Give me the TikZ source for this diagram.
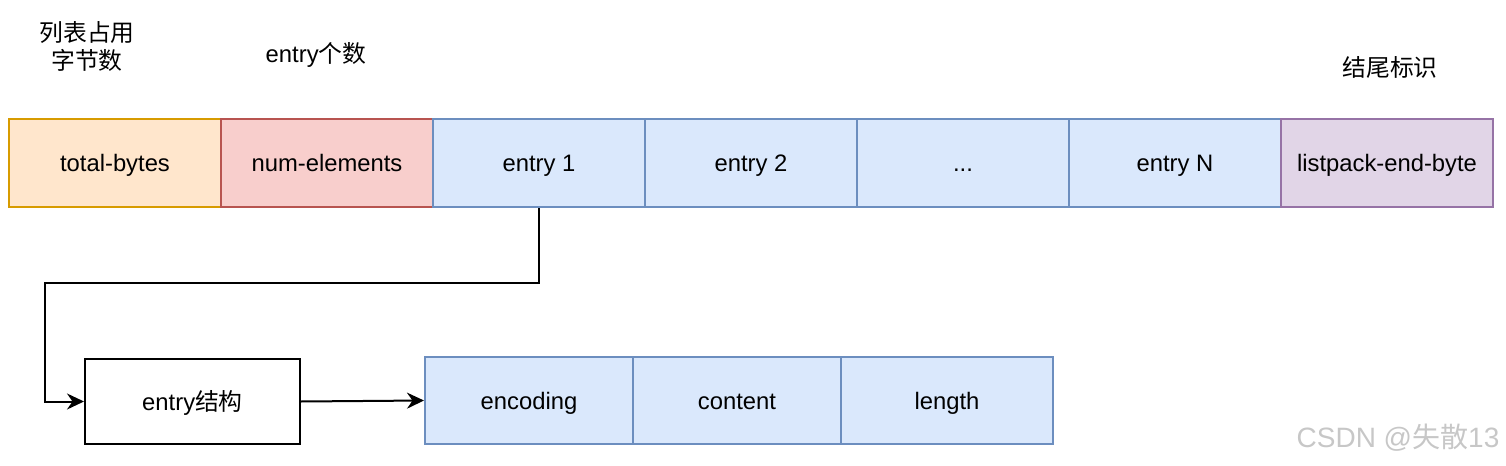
\documentclass[tikz,border=0pt]{standalone}
\usepackage{fontspec}
\setmainfont{Liberation Sans}
\newfontfamily\cjk{Noto Sans CJK SC}
\usepackage{tikz}
\usetikzlibrary{arrows.meta, positioning}

\definecolor{orangefill}{HTML}{FFE6CC}
\definecolor{orangeline}{HTML}{D79B00}
\definecolor{redfill}{HTML}{F8CECC}
\definecolor{redline}{HTML}{B85450}
\definecolor{bluefill}{HTML}{DAE8FC}
\definecolor{blueline}{HTML}{6C8EBF}
\definecolor{purplefill}{HTML}{E1D5E7}
\definecolor{purpleline}{HTML}{9673A6}

\tikzset{
  field/.style={draw, line width=1pt, minimum width=106pt, minimum height=44pt,
    inner sep=0pt, text height=10pt, text depth=1.5pt,
    font=\fontsize{11.9}{14}\selectfont},
  bluefield/.style={field, fill=bluefill, draw=blueline},
  note/.style={align=center, font=\fontsize{11.9}{14}\selectfont},
}

\begin{document}
\begin{tikzpicture}[x=0.5pt, y=-0.5pt, >={Stealth[length=8.5pt,width=8pt]}]
  \useasboundingbox (0,0) rectangle (1506,466);
  % top row
  \node (tb) at (115,163) [field, fill=orangefill, draw=orangeline] {total-bytes};
  \node (ne) at (327,163) [field, fill=redfill, draw=redline] {num-elements};
  \node (e1) at (539,163) [bluefield] {entry 1};
  \node (e2) at (751,163) [bluefield] {entry 2};
  \node (ed) at (963,163) [bluefield] {...};
  \node (en) at (1175,163) [bluefield] {entry N};
  \node (eb) at (1387,163) [field, fill=purplefill, draw=purpleline] {listpack-end-byte};
  % notes above
  \node (ntb) at (87,46) [note] {\cjk 列表占用\\\cjk 字节数};
  \node (nne) at (316,55) [note] {entry{\cjk 个数}};
  \node (neb) at (1390,67) [note] {\cjk 结尾标识};
  % entry structure
  \node (es) at (192.5,401.5) [field, draw=black, minimum width=107.5pt, minimum height=42.5pt] {entry{\cjk 结构}};
  \node (enc) at (529,400.5) [bluefield, minimum width=104pt, minimum height=43.5pt] {encoding};
  \node (con) at (737,400.5) [bluefield, minimum width=104pt, minimum height=43.5pt] {content};
  \node (len) at (947,400.5) [bluefield, minimum width=106pt, minimum height=43.5pt] {length};
  \coordinate (bend) at (45,283);
  \draw [->, line width=1pt] (e1.south) |- (bend) |- (es.west);
  \draw [->, line width=1pt] (es.east) -- (enc.west);
  % watermark
  \node (wm) at (1398,438) [text=black!22, font=\fontsize{14}{16}\selectfont] {CSDN @{\cjk 失散}13};
\end{tikzpicture}
\end{document}
